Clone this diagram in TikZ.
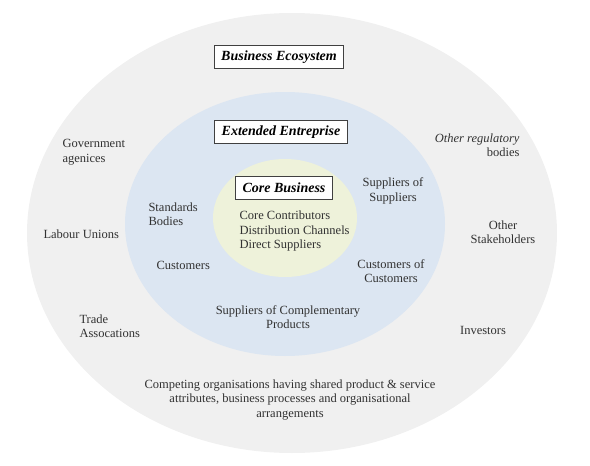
\documentclass[tikz,border=0pt]{standalone}
\usepackage{fontspec}
\setmainfont{Liberation Serif}
\usetikzlibrary{shapes.geometric}
\definecolor{ecogray}{RGB}{240,240,240}
\definecolor{extblue}{RGB}{220,230,242}
\definecolor{coreyellow}{RGB}{238,242,218}
\definecolor{labelgray}{RGB}{50,50,50}
\begin{document}
\begin{tikzpicture}[
        x=1pt, y=-1pt,
        every node/.style={font=\fontsize{12.5}{14.5}\selectfont, text=labelgray},
        ring/.style={
            ellipse,
            inner sep=0pt,
            draw=none
        },
        titlebox/.style={
            draw=black!75,
            line width=0.9pt,
            fill=white,
            text=black,
            font=\fontsize{14}{16}\selectfont\bfseries\itshape,
            inner xsep=7pt,
            minimum height=23pt
        },
        member/.style={align=center},
        leftmember/.style={align=left, anchor=west}
    ]
        \useasboundingbox (0,0) rectangle (590,466);

        \node[ring, fill=ecogray, minimum width=530pt, minimum height=440pt] (ecosystem) at (292,233) {};
        \node[ring, fill=extblue, minimum width=320pt, minimum height=264pt] (extended) at (285,224) {};
        \node[ring, fill=coreyellow, minimum width=144pt, minimum height=118pt] (core) at (285,218) {};

        \node[titlebox] (ecotitle) at (279,57) {Business Ecosystem};
        \node[titlebox] (exttitle) at (281,132) {Extended Entreprise};
        \node[titlebox] (coretitle) at (284,188) {Core Business};

        \node[leftmember] (corelist) at (236,231) {Core Contributors\\Distribution Channels\\Direct Suppliers};

        \node[leftmember] (government) at (59,152) {Government\\agenices};
        \node[leftmember] (labour) at (40,234) {Labour Unions};
        \node[leftmember] (trade) at (76,326) {Trade\\Assocations};
        \node[leftmember] (standards) at (145,214) {Standards\\Bodies};
        \node[leftmember] (customers) at (153,265) {Customers};
        \node[member] (suppsupp) at (393,191) {Suppliers of\\Suppliers};
        \node[member] (custcust) at (391,271) {Customers of\\Customers};
        \node[member] (complementary) at (288,317) {Suppliers of Complementary\\Products};
        \node[align=right, anchor=east] (regulatory) at (523,145) {\itshape Other regulatory\\bodies};
        \node[member] (stakeholders) at (503,232) {Other\\Stakeholders};
        \node[member] (investors) at (483,330) {Investors};
        \node[member] (competing) at (290,400) {Competing organisations having shared product \& service\\attributes, business processes and organisational\\arrangements};
    \end{tikzpicture}
\end{document}
